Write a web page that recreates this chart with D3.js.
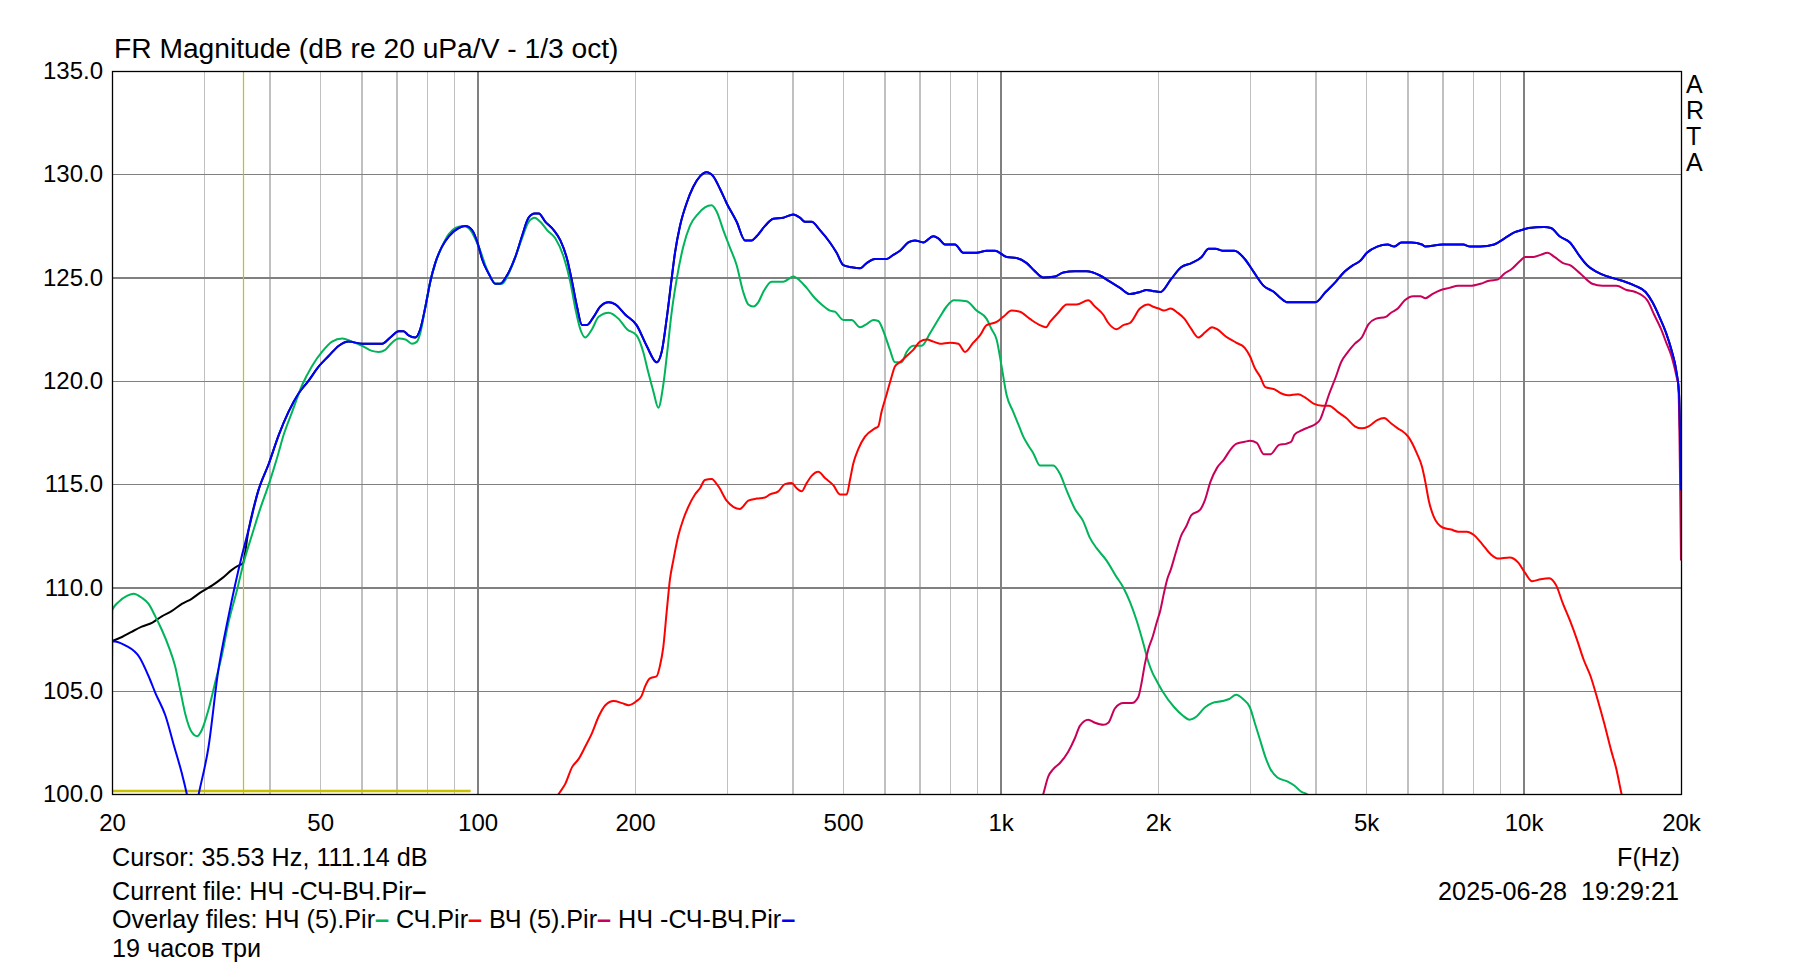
<!DOCTYPE html>
<html>
<head>
<meta charset="utf-8">
<script src="https://cdn.jsdelivr.net/npm/d3@7"></script>
<style>
  html, body { margin: 0; padding: 0; background: #fff; }
  svg { display: block; }
  text { font-family: "Liberation Sans", Arial, sans-serif; fill: #000; white-space: pre; }
</style>
</head>
<body>
<svg id="chart" width="1793" height="966"></svg>
<script>
// ---------------- DATA ----------------
const title = "FR Magnitude (dB re 20 uPa/V - 1/3 oct)";
const xTickValues = [20, 50, 100, 200, 500, 1000, 2000, 5000, 10000, 20000];
const xTickLabels = ["20", "50", "100", "200", "500", "1k", "2k", "5k", "10k", "20k"];
const yTickValues = [100, 105, 110, 115, 120, 125, 130, 135];
const xMinorGrid = [30, 40, 50, 60, 70, 80, 90, 200, 300, 400, 500, 600, 700, 800, 900,
                    2000, 3000, 4000, 5000, 6000, 7000, 8000, 9000];
const xMajorGrid = [100, 1000, 10000];
const yGrid = [105, 110, 115, 120, 125, 130];
const cursorFreq = 35.53;
const cursorDb = 111.14;
const cursorHLine = [20, 97, 100.15];   // fStart, fEnd, dB

// Current file (black) low-frequency part, then same data as the overlay of the same file
const curFreq = [20, 20.9, 21.8, 22.8, 23.9, 24.9, 26.0, 27.2, 28.4, 29.7, 31.1, 32.5, 33.9, 35.2, 35.53];
const curDb   = [107.4, 107.6, 107.85, 108.1, 108.3, 108.6, 108.85, 109.2, 109.45, 109.8, 110.1, 110.45, 110.85, 111.1, 111.14];

// НЧ (5).Pir  (green)
const nchFreq = [20, 20.02, 20.6, 21.4, 22.0, 22.8, 23.5, 24.2, 24.9, 25.7, 26.4, 27.0, 27.6, 28.4, 29.1, 29.7, 30.6, 31.5, 32.5, 33.4, 34.7, 35.7, 37.0, 38.4, 39.9, 41.4, 42.6, 44.2, 46.2, 48.2, 50.4, 52.7, 55.1, 57.5, 60.1, 62.8, 64.7, 66.6, 68.6, 70.7, 72.8, 74.9, 76.6, 77.7, 79.5, 81.2, 83.0, 85.5, 88.1, 90.7, 94.1, 96.9, 100.5, 105.0, 108.2, 111.4, 114.7, 118.1, 121.6, 125.2, 128.6, 131.8, 135.8, 140.8, 146.1, 150.4, 153.8, 157.2, 160.7, 165.5, 170.4, 178.1, 186.1, 193.1, 201.4, 207.4, 212.1, 216.8, 221.6, 226.5, 230.5, 235.0, 240.2, 247.4, 254.7, 264.3, 272.1, 280.2, 286.5, 295.0, 303.8, 312.9, 322.1, 329.3, 336.6, 344.1, 351.8, 365.0, 384.3, 401.5, 413.4, 425.8, 441.7, 454.8, 471.8, 482.3, 500.4, 519.1, 538.6, 554.6, 571.0, 583.7, 601.1, 614.5, 628.1, 646.8, 661.2, 680.9, 706.4, 732.8, 765.8, 788.6, 814.6, 861.3, 899.7, 940.5, 961.3, 982.7, 1004.6, 1027.2, 1057.4, 1089.2, 1105.3, 1121.7, 1154.9, 1189.3, 1261.3, 1298.8, 1337.5, 1387.3, 1439.3, 1482.2, 1526.3, 1595.0, 1666.8, 1716.5, 1767.5, 1820.4, 1874.6, 1916.3, 1953.3, 1976, 2037, 2148, 2230, 2299, 2370, 2461, 2537, 2655, 2737, 2821, 2907, 2997, 3066, 3136, 3208, 3282, 3383, 3541, 3649, 3762, 3849, 4000];
const nchDb   = [107.5, 108.9, 109.3, 109.6, 109.7, 109.5, 109.2, 108.6, 107.95, 107.1, 106.2, 105.05, 103.9, 103.0, 102.8, 103.1, 104.1, 105.4, 106.8, 108.3, 109.9, 111.2, 112.5, 113.8, 115.0, 116.3, 117.4, 118.5, 119.8, 120.7, 121.4, 121.9, 122.05, 121.9, 121.7, 121.45, 121.4, 121.5, 121.85, 122.05, 122.0, 121.8, 121.9, 122.3, 123.6, 124.8, 125.7, 126.5, 127.1, 127.4, 127.5, 127.3, 126.5, 125.2, 124.7, 124.7, 125.2, 126.0, 126.9, 127.7, 127.9, 127.7, 127.3, 126.9, 126.0, 124.8, 123.5, 122.5, 122.1, 122.5, 123.1, 123.3, 123.0, 122.5, 122.2, 121.4, 120.4, 119.5, 118.7, 119.8, 121.4, 123.3, 124.9, 126.5, 127.5, 128.1, 128.4, 128.5, 128.2, 127.3, 126.45, 125.6, 124.3, 123.7, 123.6, 123.8, 124.3, 124.8, 124.8, 125.05, 124.85, 124.5, 124.0, 123.7, 123.4, 123.35, 122.95, 122.95, 122.6, 122.75, 122.95, 122.9, 122.2, 121.5, 120.9, 120.9, 121.4, 121.7, 121.7, 122.3, 123.1, 123.6, 123.9, 123.85, 123.4, 123.0, 122.5, 122.0, 120.7, 119.3, 118.5, 117.7, 117.3, 117.0, 116.5, 115.9, 115.9, 115.5, 114.7, 113.8, 113.2, 112.4, 111.9, 111.3, 110.5, 110.0, 109.3, 108.4, 107.3, 106.4, 105.85, 105.6, 105.0, 104.2, 103.8, 103.6, 103.75, 104.2, 104.4, 104.5, 104.6, 104.8, 104.6, 104.2, 103.4, 102.6, 101.8, 101.2, 100.8, 100.6, 100.4, 100.1, 100.0, 99.5];

// СЧ.Pir  (red)
const schFreq = [135, 142.9, 147.2, 151.6, 156.1, 160.7, 165.5, 170.4, 175.5, 182.1, 188.9, 194.5, 201.4, 205.9, 209.0, 213.6, 220.0, 223.2, 226.5, 229.9, 233.3, 236.7, 242.0, 247.4, 252.9, 260.4, 266.2, 272.1, 280.2, 288.6, 299.4, 308.3, 317.5, 329.3, 341.7, 354.5, 362.3, 375.8, 387.0, 398.6, 407.5, 416.5, 425.8, 435.2, 448.2, 461.6, 478.8, 493.1, 507.8, 515.3, 522.9, 534.5, 550.5, 575.3, 583.7, 592.2, 605.6, 619.0, 628.1, 642.2, 661.2, 680.9, 701.2, 722.3, 743.6, 765.8, 800.3, 830.2, 855.0, 886.8, 913.3, 940.5, 982.7, 1012, 1050, 1089, 1138, 1189, 1221, 1243, 1289, 1338, 1398, 1471, 1515, 1572, 1607, 1667, 1717, 1768, 1847, 1916, 1953, 2006, 2052, 2115, 2180, 2248, 2317, 2388, 2461, 2537, 2595, 2696, 2821, 2930, 2997, 3066, 3136, 3208, 3333, 3435, 3541, 3705, 3819, 3967, 4120, 4247, 4411, 4581, 4758, 4904, 5055, 5250, 5412, 5578, 5749, 5837, 6017, 6249, 6393, 6490, 6589, 6740, 7002, 7272, 7495, 7785, 8024, 8334, 8656, 8922, 9406, 9770, 10070, 10380, 10782, 11199, 11544, 11899, 12264, 12641, 13030, 13431, 13844, 14271, 14710, 15048, 15394, 16000];
const schDb   = [99.0, 100.0, 100.5, 101.3, 101.7, 102.3, 102.95, 103.75, 104.3, 104.5, 104.4, 104.3, 104.5, 104.75, 105.2, 105.6, 105.7, 106.2, 107.1, 108.8, 110.4, 111.3, 112.5, 113.3, 113.9, 114.5, 114.8, 115.2, 115.25, 114.9, 114.2, 113.9, 113.8, 114.2, 114.3, 114.35, 114.5, 114.65, 115.0, 115.05, 114.8, 114.65, 115.05, 115.4, 115.6, 115.3, 114.95, 114.5, 114.5, 115.2, 116.0, 116.7, 117.3, 117.7, 117.8, 118.5, 119.35, 120.2, 120.7, 120.9, 121.2, 121.5, 121.9, 122.0, 121.9, 121.8, 121.85, 121.8, 121.4, 121.85, 122.2, 122.7, 122.85, 123.1, 123.4, 123.35, 123.0, 122.7, 122.6, 122.85, 123.3, 123.7, 123.7, 123.9, 123.6, 123.2, 122.8, 122.5, 122.7, 122.8, 123.5, 123.7, 123.6, 123.5, 123.4, 123.5, 123.3, 123.0, 122.5, 122.1, 122.35, 122.6, 122.5, 122.15, 121.85, 121.6, 121.2, 120.6, 120.2, 119.7, 119.6, 119.4, 119.3, 119.35, 119.2, 118.9, 118.8, 118.8, 118.5, 118.2, 117.8, 117.7, 117.8, 118.1, 118.2, 117.95, 117.7, 117.6, 117.3, 116.5, 115.85, 115.1, 114.2, 113.4, 112.9, 112.8, 112.7, 112.7, 112.55, 112.1, 111.6, 111.4, 111.45, 111.2, 110.7, 110.3, 110.4, 110.45, 110.1, 109.2, 108.4, 107.5, 106.5, 105.7, 104.6, 103.4, 102.1, 101.2, 100.0, 98.5];

// ВЧ (5).Pir  (crimson)
const vchFreq = [1150, 1207, 1234, 1261, 1299, 1347, 1387, 1418, 1471, 1515, 1572, 1607, 1655, 1717, 1781, 1834, 1861, 1888, 1916, 1953, 1991, 2021, 2052, 2083, 2115, 2164, 2214, 2264, 2317, 2406, 2461, 2518, 2595, 2675, 2757, 2821, 2930, 2997, 3089, 3185, 3282, 3409, 3514, 3595, 3649, 3762, 3877, 3997, 4088, 4151, 4247, 4377, 4478, 4616, 4758, 4904, 5055, 5210, 5453, 5578, 5749, 5927, 6156, 6345, 6490, 6689, 6949, 7217, 7495, 7903, 8271, 8591, 8922, 9196, 9478, 9844, 10070, 10459, 10782, 11114, 11456, 11899, 12264, 12834, 13532, 14162, 15048, 15746, 16355, 17244, 17775, 18323, 18741, 19174, 19615, 19764, 20000];
const vchDb   = [98.5, 100.0, 100.85, 101.2, 101.5, 102.05, 102.7, 103.3, 103.6, 103.45, 103.35, 103.45, 104.15, 104.4, 104.4, 104.7, 105.4, 106.3, 107.0, 107.6, 108.35, 108.9, 109.7, 110.4, 110.85, 111.7, 112.5, 112.95, 113.5, 113.75, 114.25, 115.1, 115.8, 116.2, 116.7, 116.95, 117.05, 117.1, 117.0, 116.45, 116.45, 116.9, 116.95, 117.05, 117.4, 117.6, 117.75, 117.9, 118.15, 118.6, 119.35, 120.2, 120.9, 121.4, 121.8, 122.1, 122.75, 123.0, 123.1, 123.3, 123.5, 123.9, 124.1, 124.1, 124.0, 124.2, 124.4, 124.5, 124.6, 124.6, 124.7, 124.85, 124.9, 125.2, 125.4, 125.8, 126.0, 126.0, 126.1, 126.2, 126.0, 125.7, 125.6, 125.2, 124.7, 124.6, 124.6, 124.4, 124.3, 123.9, 123.2, 122.5, 121.85, 121.2, 120.2, 119.8, 111.3];

// НЧ -СЧ-ВЧ.Pir  (blue overlay)
const sumFreq = [20, 20.02, 21.2, 22.6, 23.5, 24.2, 25.3, 26.3, 27.2, 27.8, 28.5, 29.3, 30.6, 31.9, 33.4, 35.4, 36.5, 38.1, 39.9, 41.7, 43.5, 45.5, 47.5, 49.7, 51.9, 54.3, 56.7, 60.1, 62.8, 65.7, 68.1, 70.7, 72.2, 73.8, 76.0, 77.7, 79.5, 81.2, 83.0, 85.5, 88.1, 92.0, 94.7, 97.6, 100.5, 102.0, 105.0, 108.2, 110.5, 113.8, 118.1, 121.6, 125.2, 128.6, 130.9, 134.8, 139.8, 144.0, 148.3, 151.6, 154.9, 158.4, 161.9, 166.7, 171.7, 178.1, 183.4, 191.7, 201.4, 210.5, 220.0, 224.9, 229.9, 234.9, 238.5, 243.8, 251.0, 258.5, 266.2, 274.1, 282.3, 290.7, 299.4, 312.9, 324.6, 334.3, 341.7, 354.5, 367.6, 384.3, 401.5, 413.4, 422.6, 435.2, 451.5, 471.8, 485.9, 500.4, 519.1, 538.6, 554.6, 575.3, 605.6, 623.6, 642.2, 666.2, 686.1, 711.7, 743.6, 760.2, 782.9, 818.1, 848.6, 899.7, 940.5, 975.7, 1027, 1073, 1122, 1164, 1207, 1271, 1318, 1387, 1460, 1549, 1619, 1692, 1768, 1847, 1902, 1953, 2021, 2115, 2214, 2317, 2424, 2499, 2576, 2655, 2800, 2930, 3043, 3185, 3333, 3435, 3541, 3762, 3997, 4183, 4377, 4512, 4722, 4867, 5017, 5250, 5494, 5663, 5837, 6109, 6393, 6490, 7002, 7667, 7903, 8271, 8787, 9196, 9623, 9919, 10224, 10944, 11281, 11719, 12264, 12834, 13229, 13739, 14488, 15161, 15628, 16355, 17114, 17642, 18185, 18741, 19174, 19615, 19824, 20000];
const sumDb   = [105.9, 107.4, 107.2, 106.6, 105.7, 104.9, 103.8, 102.3, 101.0, 100.0, 98.5, 100.0, 102.3, 105.9, 108.6, 111.5, 112.8, 114.7, 116.0, 117.4, 118.5, 119.4, 120.0, 120.7, 121.2, 121.7, 121.9, 121.8, 121.8, 121.8, 122.1, 122.4, 122.4, 122.2, 122.1, 122.5, 123.6, 124.8, 125.7, 126.5, 127.0, 127.4, 127.5, 127.3, 126.5, 125.9, 125.2, 124.7, 124.7, 125.1, 126.0, 127.0, 127.9, 128.1, 128.1, 127.7, 127.3, 126.8, 125.9, 124.8, 123.6, 122.7, 122.7, 123.1, 123.6, 123.8, 123.7, 123.2, 122.7, 121.7, 120.9, 121.4, 123.0, 124.9, 126.2, 127.5, 128.6, 129.4, 129.9, 130.1, 129.9, 129.3, 128.6, 127.7, 126.8, 126.8, 127.0, 127.5, 127.85, 127.9, 128.05, 127.9, 127.7, 127.7, 127.3, 126.7, 126.2, 125.6, 125.5, 125.45, 125.7, 125.9, 125.9, 126.1, 126.3, 126.7, 126.8, 126.7, 127.0, 126.9, 126.6, 126.6, 126.2, 126.2, 126.3, 126.3, 126.0, 125.95, 125.7, 125.3, 125.0, 125.05, 125.25, 125.3, 125.3, 125.1, 124.8, 124.5, 124.2, 124.3, 124.4, 124.35, 124.3, 124.9, 125.5, 125.7, 126.0, 126.4, 126.4, 126.3, 126.3, 125.9, 125.3, 124.6, 124.3, 124.0, 123.8, 123.8, 123.8, 124.3, 124.8, 125.2, 125.6, 125.8, 126.2, 126.5, 126.6, 126.5, 126.7, 126.7, 126.6, 126.5, 126.6, 126.6, 126.5, 126.5, 126.6, 126.9, 127.2, 127.3, 127.4, 127.45, 127.4, 127.0, 126.7, 126.0, 125.6, 125.3, 125.05, 124.9, 124.8, 124.6, 124.3, 123.8, 123.1, 122.3, 121.5, 120.4, 119.4, 114.7];

const footerCursor = "Cursor: 35.53 Hz, 111.14 dB";
const footerDate = "2025-06-28  19:29:21";
const footerAxis = "F(Hz)";
const footerNote = "19 часов три";
const currentFile = ["Current file: НЧ -СЧ-ВЧ.Pir", "#000000"];
const overlayFiles = [["Overlay files: НЧ (5).Pir", "#00b45a"], [" СЧ.Pir", "#ff0000"], [" ВЧ (5).Pir", "#c8005a"], [" НЧ -СЧ-ВЧ.Pir", "#0000ff"]];
const brand = ["A", "R", "T", "A"];

// ---------------- CHART ----------------
const svg = d3.select("#chart");
const L = 112, R = 1681, T = 71, B = 794;
const x = d3.scaleLog().domain([20, 20000]).range([L, R]);
const y = d3.scaleLinear().domain([100, 135]).range([B, T]);

// grids via axes
const gMinor = svg.append("g").attr("transform", `translate(0,${B})`)
  .call(d3.axisBottom(x).tickValues(xMinorGrid).tickSize(-(B - T)).tickFormat(""));
gMinor.select(".domain").remove();
gMinor.selectAll("line").attr("stroke", "#c0c0c0").attr("stroke-width", 1.2).attr("shape-rendering", "crispEdges");

const gMajor = svg.append("g").attr("transform", `translate(0,${B})`)
  .call(d3.axisBottom(x).tickValues(xMajorGrid).tickSize(-(B - T)).tickFormat(""));
gMajor.select(".domain").remove();
gMajor.selectAll("line").attr("stroke", "#808080").attr("stroke-width", 1.2).attr("shape-rendering", "crispEdges");

const gY = svg.append("g").attr("transform", `translate(${L},0)`)
  .call(d3.axisLeft(y).tickValues(yGrid).tickSize(-(R - L)).tickFormat(""));
gY.select(".domain").remove();
gY.selectAll("line").attr("stroke", "#808080").attr("stroke-width", 1.2).attr("shape-rendering", "crispEdges");

// tick labels
const xl = svg.append("g").attr("transform", `translate(0,${B})`)
  .call(d3.axisBottom(x).tickValues(xTickValues).tickSize(0).tickPadding(20)
    .tickFormat((d, i) => xTickLabels[i]));
xl.select(".domain").remove();
xl.selectAll("text").attr("font-size", 24).attr("font-family", "Liberation Sans, Arial, sans-serif").attr("fill", "#000");

const yl = svg.append("g").attr("transform", `translate(${L},0)`)
  .call(d3.axisLeft(y).tickValues(yTickValues).tickSize(0).tickPadding(9).tickFormat(d3.format(".1f")));
yl.select(".domain").remove();
yl.selectAll("text").attr("font-size", 24).attr("font-family", "Liberation Sans, Arial, sans-serif").attr("fill", "#000");

// clip
svg.append("clipPath").attr("id", "plotclip").append("rect")
  .attr("x", L).attr("y", T).attr("width", R - L).attr("height", B - T);

const plot = svg.append("g").attr("clip-path", "url(#plotclip)");

// cursor
plot.append("line")
  .attr("x1", x(cursorHLine[0])).attr("x2", x(cursorHLine[1]))
  .attr("y1", y(cursorHLine[2])).attr("y2", y(cursorHLine[2]))
  .attr("stroke", "#c8c000").attr("stroke-width", 2.5);
plot.append("line")
  .attr("x1", Math.round(x(cursorFreq)) + 0.5).attr("x2", Math.round(x(cursorFreq)) + 0.5)
  .attr("y1", T).attr("y2", B)
  .attr("stroke", "#c8c000").attr("stroke-width", 1.2);

const line = d3.line().x(d => x(d[0])).y(d => y(d[1])).curve(d3.curveMonotoneX);
const zip = (f, v) => f.map((ff, i) => [ff, v[i]]);

const sumData = zip(sumFreq, sumDb);
const curData = zip(curFreq, curDb).concat(sumData.filter(d => d[0] > 35.6));

const series = [
  [curData, "#000000"],
  [zip(nchFreq, nchDb), "#00b45a"],
  [zip(schFreq, schDb), "#ff0000"],
  [zip(vchFreq, vchDb), "#c8005a"],
  [sumData, "#0000ff"]
];
series.forEach(([data, color]) => {
  plot.append("path").datum(data).attr("d", line)
    .attr("fill", "none").attr("stroke", color).attr("stroke-width", 2)
    .attr("stroke-linejoin", "round");
});

// frame
svg.append("rect").attr("x", L + 0.5).attr("y", T + 0.5).attr("width", R - L).attr("height", B - T)
  .attr("fill", "none").attr("stroke", "#000").attr("stroke-width", 1.3);

// title
svg.append("text").attr("x", 114).attr("y", 58).attr("font-size", 28.2).text(title);

// ARTA
svg.selectAll("text.brand").data(brand).enter().append("text")
  .attr("class", "brand").attr("x", 1686).attr("y", (d, i) => 93 + i * 26)
  .attr("font-size", 25).text(d => d);

// footer
const fs = 25.2;
svg.append("text").attr("x", 112).attr("y", 866).attr("font-size", fs).text(footerCursor);
svg.append("text").attr("x", 1680).attr("y", 866).attr("font-size", fs).attr("text-anchor", "end").text(footerAxis);
svg.append("text").attr("x", 1679).attr("y", 900).attr("font-size", fs).attr("text-anchor", "end").text(footerDate);

function legendLine(yPos, parts) {
  const t = svg.append("text").attr("x", 112).attr("y", yPos).attr("font-size", fs);
  parts.forEach(([label, color]) => {
    t.append("tspan").text(label);
    t.append("tspan").attr("fill", color).attr("font-weight", "bold").text("–");
  });
}
legendLine(900, [currentFile]);
legendLine(928, overlayFiles);
svg.append("text").attr("x", 112).attr("y", 957).attr("font-size", fs).text(footerNote);
</script>
</body>
</html>
